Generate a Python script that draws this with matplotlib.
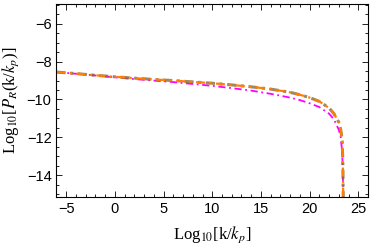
import matplotlib
matplotlib.use('Agg')
import matplotlib.pyplot as plt
from matplotlib.ticker import MultipleLocator

plt.rcParams['mathtext.fontset'] = 'stix'

x_orange = [-6, -4, -2, 0, 2, 4, 6, 8, 10, 12, 14, 16, 18, 19, 20, 21, 22, 22.5, 23, 23.2, 23.35, 23.42, 23.46]
y_orange = [-8.55, -8.63, -8.72, -8.8, -8.87, -8.94, -9.0, -9.07, -9.14, -9.23, -9.33, -9.45, -9.62, -9.75,
            -9.9, -10.1, -10.45, -10.75, -11.2, -11.6, -12.2, -13.5, -15.5]
x_magenta = [-6, -4, -2, 0, 2, 4, 6, 8, 10, 12, 14, 16, 18, 19, 20, 21, 22, 22.5, 23, 23.2, 23.35, 23.42, 23.46]
y_magenta = [-8.55, -8.64, -8.73, -8.83, -8.92, -9.0, -9.08, -9.18, -9.28, -9.4, -9.53, -9.7, -9.9, -10.03,
             -10.2, -10.4, -10.75, -11.05, -11.6, -12.0, -12.8, -14.0, -15.5]

fig = plt.figure(figsize=(3.74, 2.48), dpi=100)
ax = fig.add_axes([0.151, 0.206, 0.833, 0.778])

ax.plot(x_magenta, y_magenta, color='#ff00ff', lw=1.3, dashes=(4, 2, 1, 2))
ax.plot(x_orange, y_orange, color='#8a6a3a', lw=2.2, dashes=(3, 1.5, 1, 1.5), alpha=0.8)
ax.plot(x_orange, y_orange, color='#ff8000', lw=1.6, dashes=(4, 2, 1, 2))

ax.set_xlim(-6, 26)
ax.set_ylim(-15.15, -4.95)
ax.xaxis.set_major_locator(MultipleLocator(5))
ax.xaxis.set_minor_locator(MultipleLocator(1))
ax.yaxis.set_major_locator(MultipleLocator(2))
ax.yaxis.set_minor_locator(MultipleLocator(0.5))
ax.tick_params(which='both', direction='in', top=True, right=True, labelsize=10.5, width=0.6)
ax.tick_params(which='major', length=4)
ax.tick_params(which='minor', length=2)
for lab in ax.get_xticklabels() + ax.get_yticklabels():
    lab.set_fontfamily('Liberation Sans')
ax.set_xticklabels([str(int(t)).replace('-', '\u2212') for t in ax.get_xticks()])
ax.set_yticks([-14, -12, -10, -8, -6])
ax.set_yticklabels(['\u221214', '\u221212', '\u221210', '\u22128', '\u22126'], fontfamily='Liberation Sans')
ax.set_xticks([-5, 0, 5, 10, 15, 20, 25])
ax.set_xticklabels(['\u22125', '0', '5', '10', '15', '20', '25'], fontfamily='Liberation Sans')
for s in ax.spines.values():
    s.set_linewidth(0.8)

ax.set_xlabel(r'Log$_{10}$[k/$k_p$]', fontfamily='Liberation Serif', fontsize=12, labelpad=6)
ax.set_ylabel(r'Log$_{10}$[$P_R$(k/$k_p$)]', fontfamily='Liberation Serif', fontsize=12, labelpad=4)

fig.savefig('out.png', dpi=100)
